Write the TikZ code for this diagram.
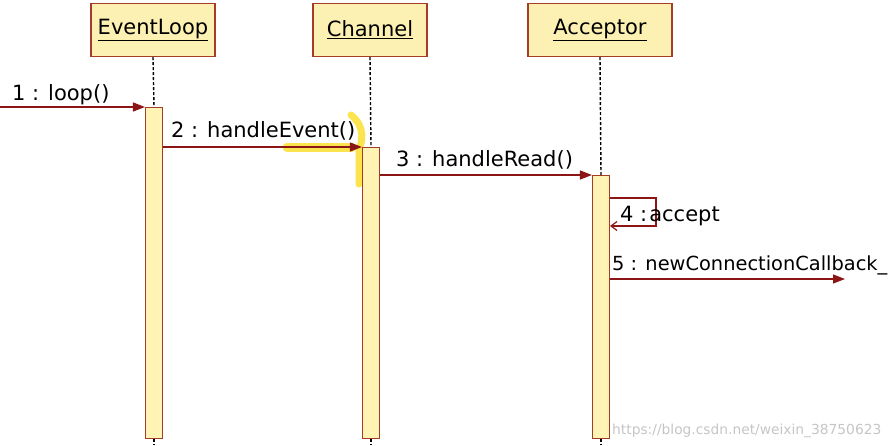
\documentclass[tikz,border=0pt]{standalone}
\usepackage{fontspec}
\setmainfont{DejaVu Sans}
\usetikzlibrary{arrows.meta}
\definecolor{boxfill}{RGB}{252,241,178}
\definecolor{actfill}{RGB}{255,244,180}
\definecolor{edge}{RGB}{165,60,40}
\definecolor{msg}{RGB}{140,22,22}
\definecolor{hilite}{RGB}{250,220,20}
\begin{document}
\begin{tikzpicture}[x=1pt,y=-1pt,
 header/.style={draw=edge, fill=boxfill, line width=1.2pt, minimum height=53pt, inner sep=0pt, font=\fontsize{21}{24}\selectfont},
 act/.style={draw=edge, fill=actfill, line width=1.1pt, inner sep=0pt, minimum width=17pt},
 life/.style={dash pattern=on 3pt off 2pt, line width=1.4pt, black},
 msgline/.style={draw=msg, line width=1.2pt, -{Triangle[length=12pt,width=9pt]}},
 selfline/.style={draw=msg, line width=1.2pt, -{Straight Barb[length=6pt,width=9pt]}},
 lbl/.style={anchor=base west, inner sep=0pt, font=\fontsize{21}{24}\selectfont},
 wm/.style={anchor=base west, inner sep=0pt, text=gray!45, font=\fontsize{13.8}{15}\selectfont}]
\useasboundingbox (0,0) rectangle (895,445);
\fill[white] (0,0) rectangle (895,445);

% headers
\node[header, minimum width=124pt] (h1) at (153,30) {\underline{EventLoop}};
\node[header, minimum width=114pt] (h2) at (370,30) {\underline{Channel}};
\node[header, minimum width=144pt] (h3) at (600,30) {\underline{Acceptor}};

% highlight
\draw[hilite, opacity=0.75, line width=9pt, line cap=round] (287,147) -- (352,147);
\draw[hilite, opacity=0.75, line width=7pt, line cap=round] (351,115) .. controls (366,127) and (362,142) .. (359,150) -- (359,184);

% activations
\node[act, minimum height=331pt, anchor=north] (a1) at (154,107) {};
\node[act, minimum height=291pt, anchor=north] (a2) at (371,147) {};
\node[act, minimum height=263pt, anchor=north] (a3) at (601,175) {};

% lifelines
\draw[life] (h1.south) -- (a1.north);
\draw[life] (h2.south) -- (a2.north);
\draw[life] (h3.south) -- (a3.north);
\coordinate (e1) at (154,445);
\coordinate (e2) at (371,445);
\coordinate (e3) at (601,445);
\draw[life] (a1.south) -- (e1);
\draw[life] (a2.south) -- (e2);
\draw[life] (a3.south) -- (e3);

% messages
\coordinate (s1) at (0,107);
\draw[msgline] (s1) -- (a1.north west);
\node[lbl] (l1) at (12,100) {1 : loop()};

\draw[msgline] (a1.east |- a2.north) -- (a2.north west);
\node[lbl] (l2) at (171,137) {2 : handleEvent()};

\draw[msgline] (a2.east |- a3.north) -- (a3.north west);
\node[lbl] (l3) at (396,166) {3 : handleRead()};

\draw[selfline] ([yshift=-23pt]a3.north east) -- ++(46,0) -- ++(0,28) -- ([yshift=-51pt]a3.north east);
\node[lbl] (l4) at (620,221) {4 :\kern2pt accept};

\coordinate (e5) at (845,279);
\draw[msgline] ([yshift=-104pt]a3.north east) -- (e5);
\node[lbl, font=\fontsize{19.4}{22}\selectfont] (l5) at (612,270) {5 : newConnectionCallback\_};

\node[wm] (w) at (612,434) {https://blog.csdn.net/weixin\_38750623};
\end{tikzpicture}
\end{document}
